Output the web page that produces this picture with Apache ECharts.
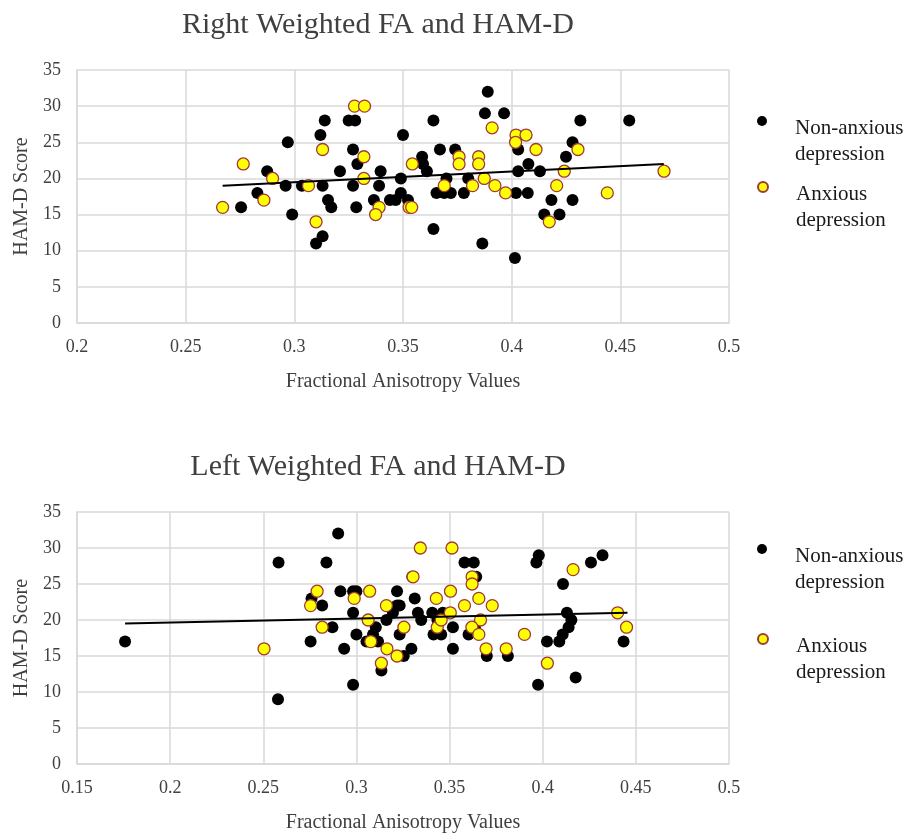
<!DOCTYPE html>
<html><head><meta charset="utf-8">
<script src="https://cdn.jsdelivr.net/npm/echarts@6/dist/echarts.min.js"></script>
<style>html,body{margin:0;padding:0;background:#fff}#c{width:910px;height:834px}</style>
</head><body><div id="c"></div>
<script>
const titles = ['Right Weighted FA and HAM-D', 'Left Weighted FA and HAM-D'];
const nameNon = 'Non-anxious depression';
const nameAnx = 'Anxious depression';
const xAxisName = 'Fractional Anisotropy Values';
const yAxisName = 'HAM-D Score';

// Right weighted FA (x) vs HAM-D (y)
const rightNonAnxious = [
  [0.297,25],[0.2875,21],[0.296,19],[0.3035,19],[0.283,18],[0.2755,16],[0.299,15],
  [0.313,19],[0.313,12],[0.310,11],[0.314,28],[0.312,26],[0.3155,17],[0.317,16],
  [0.321,21],[0.325,28],[0.328,28],[0.327,24],[0.329,22],[0.327,19],[0.3285,16],
  [0.3397,21],[0.339,19],[0.3366,17],[0.344,17],[0.3466,17],[0.349,18],[0.349,20],
  [0.350,26],[0.3523,17],[0.3588,23],[0.3592,22],[0.361,21],[0.364,28],[0.364,13],
  [0.3654,18],[0.369,18],[0.372,18],[0.367,24],[0.370,20],[0.374,24],[0.378,18],
  [0.380,20],[0.3877,29],[0.389,32],[0.3865,11],[0.3965,29],[0.402,18],[0.4015,9],
  [0.403,21],[0.403,24],[0.4077,22],[0.413,21],[0.4074,18],[0.4316,28],[0.4541,28],
  [0.428,25],[0.425,23],[0.4183,17],[0.428,17],[0.415,15],[0.422,15]
];
const rightAnxious = [
  [0.2765,22],[0.290,20],[0.286,17],[0.267,16],[0.3065,19],[0.310,14],[0.313,24],
  [0.3277,30],[0.3323,30],[0.332,23],[0.332,20],[0.339,16],[0.3374,15],[0.3528,16],
  [0.354,16],[0.3543,22],[0.369,19],[0.3758,23],[0.3758,22],[0.382,19],[0.3848,23],
  [0.3848,22],[0.391,27],[0.3874,20],[0.3923,19],[0.3972,18],[0.402,26],[0.4066,26],
  [0.4018,25],[0.4112,24],[0.4305,24],[0.4242,21],[0.4207,19],[0.4173,14],[0.444,18],
  [0.4701,21]
];
const rightTrend = [[0.267,19.0],[0.470,22.0]];

// Left weighted FA (x) vs HAM-D (y)
const leftNonAnxious = [
  [0.1758,17],[0.2582,28],[0.2579,9],[0.2902,32],[0.2839,28],[0.2759,23],[0.2816,22],
  [0.2871,19],[0.2754,17],[0.2914,24],[0.2982,24],[0.300,24],[0.2982,21],[0.2934,16],
  [0.300,18],[0.2982,11],[0.3104,19],[0.3089,18],[0.3054,17],[0.3077,17],[0.3116,17],
  [0.3134,13],[0.3161,20],[0.3196,21],[0.3218,22],[0.3218,24],[0.3232,22],[0.3254,15],
  [0.3295,16],[0.3232,18],[0.3255,19],[0.3313,23],[0.3300,26],[0.333,21],[0.3348,20],
  [0.3407,21],[0.3464,21],[0.3414,18],[0.3455,18],[0.3518,19],[0.3518,16],[0.358,28],
  [0.363,28],[0.3643,26],[0.3602,18],[0.3700,15],[0.3813,15],[0.3979,29],[0.3966,28],
  [0.4259,28],[0.4321,29],[0.4109,25],[0.413,21],[0.4154,20],[0.4139,19],[0.4107,18],
  [0.4089,17],[0.4023,17],[0.3975,11],[0.4177,12],[0.4434,17],[0.3435,20],[0.3635,19]
];
const leftAnxious = [
  [0.2504,16],[0.2789,24],[0.2754,22],[0.2816,19],[0.2988,23],[0.3071,24],[0.3063,20],
  [0.3077,17],[0.3164,16],[0.3134,14],[0.3161,22],[0.3218,15],[0.3255,19],[0.3304,26],
  [0.3343,30],[0.3429,23],[0.3434,19],[0.3455,20],[0.3504,21],[0.3505,24],[0.3513,30],
  [0.3621,26],[0.3621,25],[0.358,22],[0.3657,23],[0.3729,22],[0.3666,20],[0.362,19],
  [0.3657,18],[0.3696,16],[0.3804,16],[0.3902,18],[0.4163,27],[0.4025,14],[0.4402,21],
  [0.445,19]
];
const leftTrend = [[0.1758,19.5],[0.4455,21.0]];

const xRanges = [[0.2, 0.5], [0.15, 0.5]];
const yRange = [0, 35];

const FONT = '"Liberation Serif", "Times New Roman", serif';
const gridColor = '#d9d9d9';
const textColor = '#404040';
const yellow = '#ffff00';
const yellowBorder = '#9e3a3a';

const chart = echarts.init(document.getElementById('c'), null, {renderer: 'canvas'});

function xAxis(i, range) {
  return {
    type: 'value', gridIndex: i, min: range[0], max: range[1], interval: 0.05,
    name: xAxisName, nameLocation: 'middle', nameGap: 49,
    nameTextStyle: {fontFamily: FONT, fontSize: 20, color: textColor},
    axisLine: {show: true, lineStyle: {color: gridColor, width: 1.5}},
    axisTick: {show: false},
    axisLabel: {fontFamily: FONT, fontSize: 18, color: textColor, margin: 15,
      formatter: v => String(Math.round(v * 100) / 100)},
    splitLine: {show: true, lineStyle: {color: gridColor, width: 1.5}}
  };
}
function yAxis(i) {
  return {
    type: 'value', gridIndex: i, min: yRange[0], max: yRange[1], interval: 5,
    name: yAxisName, nameLocation: 'middle', nameGap: 44, nameRotate: 90,
    nameTextStyle: {fontFamily: FONT, fontSize: 20, color: textColor},
    axisLine: {show: true, lineStyle: {color: gridColor, width: 1.5}},
    axisTick: {show: false},
    axisLabel: {fontFamily: FONT, fontSize: 18, color: textColor, margin: 16},
    splitLine: {show: true, lineStyle: {color: gridColor, width: 1.5}}
  };
}
function legend(name, top) {
  return {
    data: [name], left: 757, top: top, padding: 0, orient: 'vertical',
    selectedMode: false, itemWidth: 10, itemHeight: 10, icon: 'circle',
    formatter: n => '{s| }\n{t|' + n.replace(' ', '}\n{t|') + '}',
    textStyle: {fontFamily: FONT, fontSize: 21, color: '#1a1a1a', padding: [0, 0, 0, 23],
      rich: {
        s: {fontFamily: FONT, fontSize: 10, lineHeight: 40},
        t: {fontFamily: FONT, fontSize: 21, lineHeight: 26, color: '#1a1a1a'}
      }}
  };
}
function scatterSeries(name, data, i, anxious) {
  return {
    type: 'scatter', name: name, data: data, xAxisIndex: i, yAxisIndex: i,
    symbol: 'circle', symbolSize: 12, z: anxious ? 4 : 3,
    itemStyle: anxious ? {color: yellow, borderColor: yellowBorder, borderWidth: 1.3, opacity: 1}
                       : {color: '#000', opacity: 1},
    emphasis: {disabled: true}
  };
}
function trendSeries(data, i) {
  return {
    type: 'line', data: data, xAxisIndex: i, yAxisIndex: i, showSymbol: false,
    symbol: 'none', lineStyle: {color: '#000', width: 2}, z: 5, silent: true
  };
}

chart.setOption({
  animation: false,
  backgroundColor: '#fff',
  title: [
    {text: titles[0], left: 373, textAlign: 'center', top: 5,
     textStyle: {fontFamily: FONT, fontSize: 30, fontWeight: 'normal', color: textColor}},
    {text: titles[1], left: 373, textAlign: 'center', top: 447,
     textStyle: {fontFamily: FONT, fontSize: 30, fontWeight: 'normal', color: textColor}}
  ],
  legend: [legend(nameNon, 90), legend(nameAnx, 156), legend(nameNon, 518), legend(nameAnx, 608)],
  grid: [
    {left: 77, right: 181, top: 70, height: 253},
    {left: 77, right: 181, top: 512, height: 253}
  ],
  xAxis: [xAxis(0, xRanges[0]), xAxis(1, xRanges[1])],
  yAxis: [yAxis(0), yAxis(1)],
  series: [
    scatterSeries(nameNon, rightNonAnxious, 0, false),
    scatterSeries(nameAnx, rightAnxious, 0, true),
    trendSeries(rightTrend, 0),
    scatterSeries(nameNon, leftNonAnxious, 1, false),
    scatterSeries(nameAnx, leftAnxious, 1, true),
    trendSeries(leftTrend, 1)
  ]
});
</script>
</body></html>
